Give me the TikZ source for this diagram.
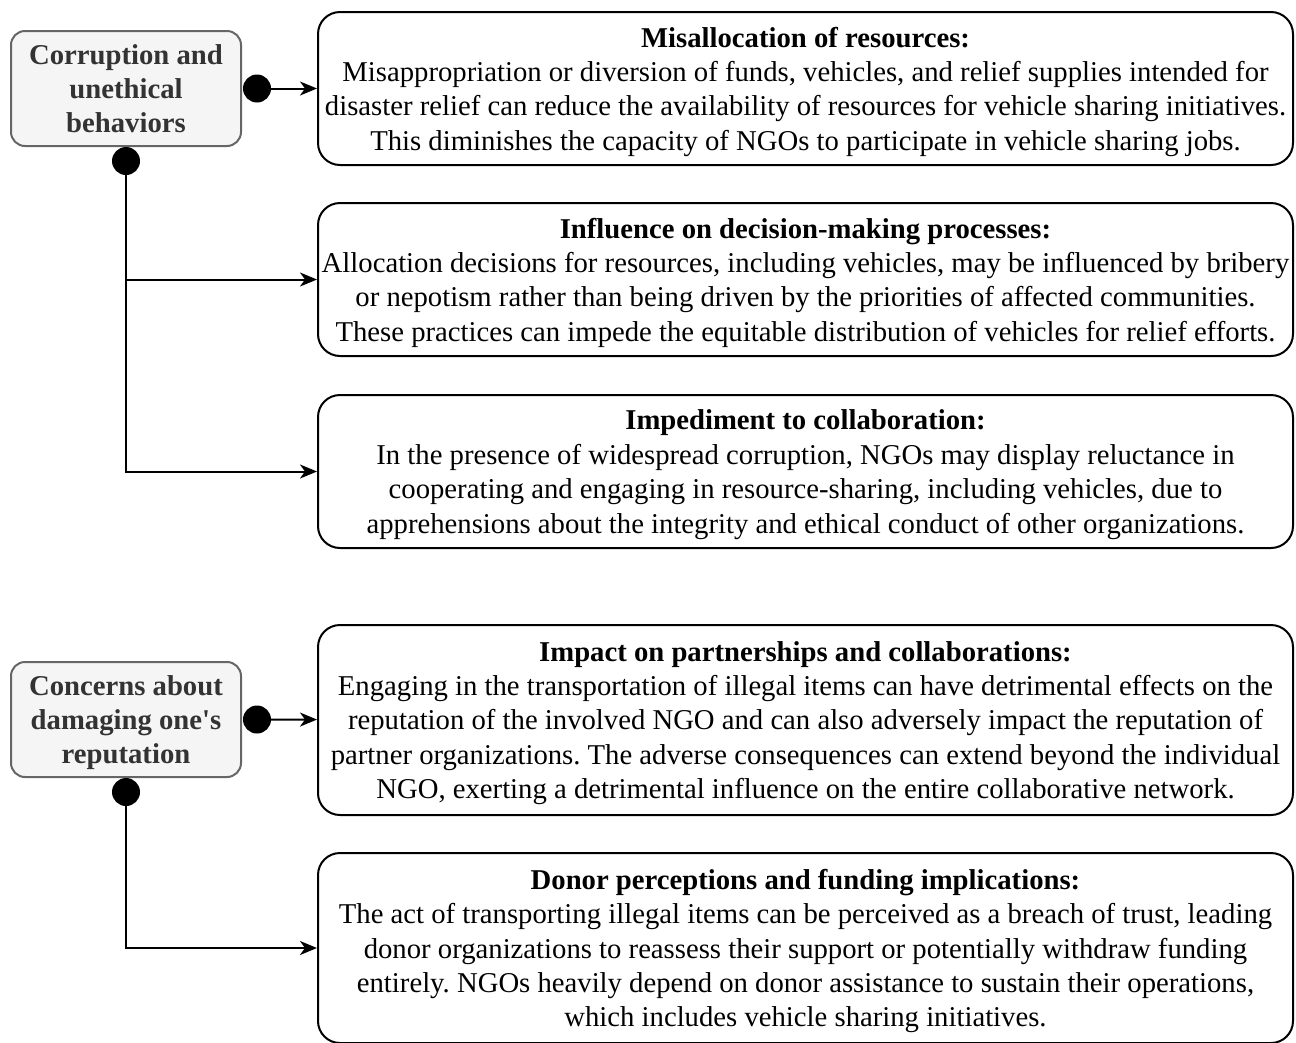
\documentclass[tikz,border=0pt]{standalone}
\usepackage{fontspec}
\setmainfont{Liberation Serif}
\frenchspacing
\usetikzlibrary{
  arrows.meta
}
\definecolor{causeline}{HTML}{666666}
\definecolor{causefill}{HTML}{F5F5F5}
\definecolor{causetext}{HTML}{333333}

\begin{document}
\begin{tikzpicture}[
  x=1pt, y=-1pt,
  every node/.style={font=\fontsize{28.7}{34.4}\selectfont},
  cause/.style={draw=causeline,fill=causefill,line width=2pt,rounded corners=14pt,
    minimum width=230pt,minimum height=115pt,inner sep=0pt,align=center,
    text=causetext,font=\fontsize{28.7}{34.4}\selectfont\bfseries,text depth=-3pt},
  effect/.style={draw=black,line width=2pt,rounded corners=22pt,
    minimum width=975pt,inner sep=0pt,align=center,text depth=-4pt},
  knob/.style={circle,fill=black,minimum size=28pt,inner sep=0pt},
  link/.style={line width=2pt,-{Stealth[length=17pt,width=14pt,inset=5pt]}},
]
\useasboundingbox (0,0) rectangle (1296,1042);

% causes
\node[cause] (corrupt) at (126,88.5) {Corruption and\\unethical\\behaviors};
\node[cause] (repute) at (126,719.5) {Concerns about\\damaging one\textquotesingle s\\reputation};

% effects
\node[effect,minimum height=153pt] (misalloc) at (805.5,88.5)
  {\textbf{Misallocation of resources:}\\
   Misappropriation or diversion of funds, vehicles, and relief supplies intended for\\
   disaster relief can reduce the availability of resources for vehicle sharing initiatives.\\
   This diminishes the capacity of NGOs to participate in vehicle sharing jobs.};
\node[effect,minimum height=153pt] (decide) at (805.5,279.5)
  {\textbf{Influence on decision-making processes:}\\
   Allocation decisions for resources, including vehicles, may be influenced by bribery\\
   or nepotism rather than being driven by the priorities of affected communities.\\
   These practices can impede the equitable distribution of vehicles for relief efforts.};
\node[effect,minimum height=153pt] (impede) at (805.5,471.5)
  {\textbf{Impediment to collaboration:}\\
   In the presence of widespread corruption, NGOs may display reluctance in\\
   cooperating and engaging in resource-sharing, including vehicles, due to\\
   apprehensions about the integrity and ethical conduct of other organizations.};
\node[effect,minimum height=190pt] (partner) at (805.5,720)
  {\textbf{Impact on partnerships and collaborations:}\\
   Engaging in the transportation of illegal items can have detrimental effects on the\\
   reputation of the involved NGO and can also adversely impact the reputation of\\
   partner organizations. The adverse consequences can extend beyond the individual\\
   NGO, exerting a detrimental influence on the entire collaborative network.};
\node[effect,minimum height=190pt] (donor) at (805.5,948)
  {\textbf{Donor perceptions and funding implications:}\\
   The act of transporting illegal items can be perceived as a breach of trust, leading\\
   donor organizations to reassess their support or potentially withdraw funding\\
   entirely. NGOs heavily depend on donor assistance to sustain their operations,\\
   which includes vehicle sharing initiatives.};

% knobs
\node[knob] (corrupt-r) at (257,88.5) {};
\node[knob] (corrupt-b) at (126,161) {};
\node[knob] (repute-r) at (257,719.5) {};
\node[knob] (repute-b) at (126,792) {};
\coordinate (corrupt-j1) at (126,279.5);
\coordinate (corrupt-j2) at (126,471.5);
\coordinate (repute-j1) at (126,948);

% connectors
\draw[link] (corrupt-r) -- (misalloc);
\draw[link] (corrupt-b.center) -- (corrupt-j2) -- (impede);
\draw[link] (corrupt-j1) -- (decide);
\draw[link] (repute-r) -- (partner);
\draw[link] (repute-b.center) -- (repute-j1) -- (donor);
\end{tikzpicture}
\end{document}
